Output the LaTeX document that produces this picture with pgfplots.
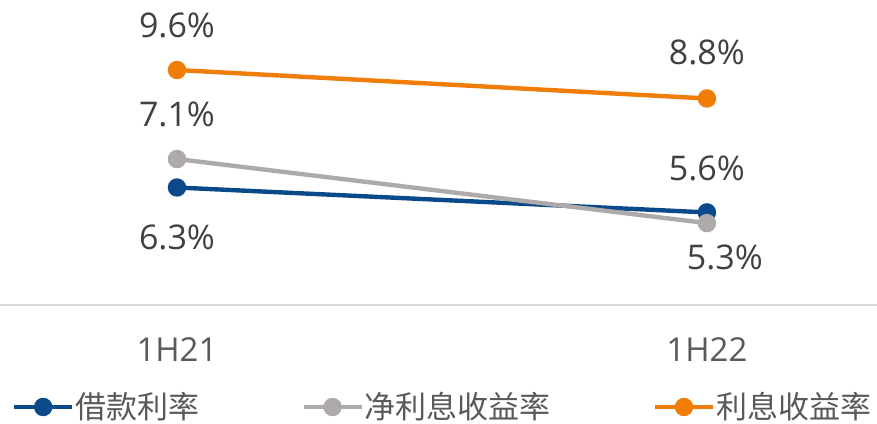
\documentclass[border=0pt]{standalone}
\usepackage{fontspec}
\setmainfont{Open Sans}
\newfontfamily\cjk{Noto Sans CJK SC}
\usepackage{pgfplots}
\pgfplotsset{compat=1.18}
\definecolor{cblue}{HTML}{0A4A8A}
\definecolor{cgray}{HTML}{AEAAAA}
\definecolor{corange}{HTML}{F07D08}
\definecolor{ctext}{HTML}{404040}
\definecolor{clab}{HTML}{595959}
\definecolor{cline}{HTML}{D9D9D9}
\begin{document}
\begin{tikzpicture}
\path[use as bounding box] (0,0) rectangle (438.5pt,-211.5pt);
\begin{axis}[
  anchor=north west, at={(0,0)},
  scale only axis, width=438.5pt, height=152.5pt,
  xmin=-0.334, xmax=1.321, ymin=3, ymax=11.566,
  axis x line=bottom, axis y line=none,
  x axis line style={draw=cline, line width=0.9pt, -},
  major tick length=0pt,
  xtick={0,1}, xticklabels={1H21,1H22},
  ytick=\empty,
  xticklabel style={anchor=center, yshift=-22.5pt, text=clab, font=\fontsize{16.5}{18}\selectfont},
  clip=false,
  legend columns=3,
  legend style={draw=none, fill=none, at={(axis description cs:0,0)}, anchor=west,
    yshift=-51pt, xshift=6pt,
    font=\cjk\fontsize{15.5}{18}\selectfont, text=clab,
    /tikz/every odd column/.append style={column sep=0.5pt},
    /tikz/every even column/.append style={column sep=51pt},
    inner sep=0pt, outer sep=0pt,
    nodes={inner sep=0pt}},
  legend image code/.code={%
    \draw[#1, mark repeat=2, mark phase=2] plot coordinates {(0pt,0pt)(14.5pt,0pt)(29pt,0pt)};},
  every axis plot/.append style={line width=2.2pt, mark=*, mark size=3.5pt},
]
\addplot[cblue, mark options={fill=cblue, draw=cblue}] coordinates {(0,6.3) (1,5.6)};
\addlegendentry{借款利率}
\addplot[cgray, mark options={fill=cgray, draw=cgray}] coordinates {(0,7.1) (1,5.3)};
\addlegendentry{净利息收益率}
\addplot[corange, mark options={fill=corange, draw=corange}] coordinates {(0,9.6) (1,8.8)};
\addlegendentry{利息收益率}
\tikzset{lab/.style={text=ctext, font=\fontsize{17}{20}\selectfont, inner sep=0pt}}
\node[lab] at (axis cs:0,9.6) [yshift=22.5pt] {9.6\%};
\node[lab] at (axis cs:0,7.1) [yshift=22.5pt] {7.1\%};
\node[lab] at (axis cs:0,6.3) [yshift=-25pt] {6.3\%};
\node[lab] at (axis cs:1,8.8) [yshift=23pt] {8.8\%};
\node[lab] at (axis cs:1,5.6) [yshift=22pt] {5.6\%};
\node[lab] at (axis cs:1,5.3) [yshift=-17pt, xshift=9pt] {5.3\%};
\end{axis}
\end{tikzpicture}
\end{document}
